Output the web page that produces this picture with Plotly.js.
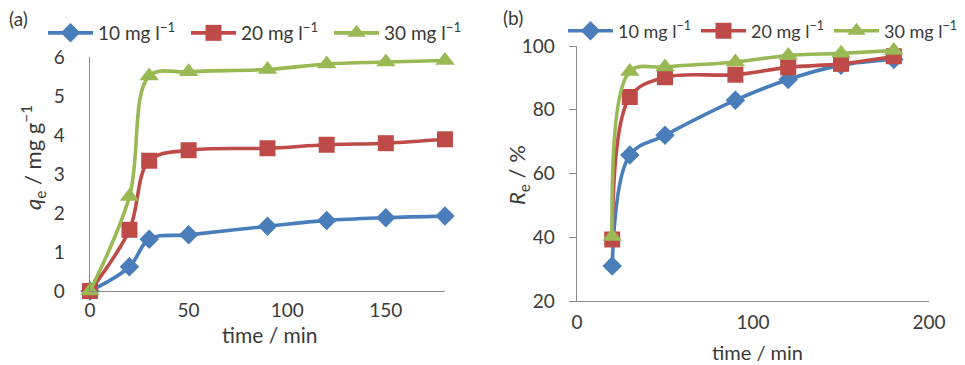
<!DOCTYPE html>
<html><head><meta charset="utf-8">
<script src="https://cdn.plot.ly/plotly-3.0.1.min.js"></script>
<style>html,body{margin:0;background:#fff;overflow:hidden}#c{width:965px;height:365px}</style>
</head><body><div id="c"></div><script>
const timeA=[0,20,30,50,90,120,150,180];
const qe10=[0,0.62,1.33,1.44,1.66,1.81,1.88,1.92];
const qe20=[0,1.57,3.34,3.61,3.66,3.75,3.79,3.89];
const qe30=[0,2.42,5.51,5.62,5.68,5.82,5.87,5.91];
const timeB=[20,30,50,90,120,150,180];
const re10=[31,65.8,72,83,89.5,94,95.8];
const re20=[39.3,84,90.2,91,93.3,94.4,96.8];
const re30=[40.2,92,93.4,95,97,97.7,98.6];
const names=['10 mg l<sup>−1</sup>','20 mg l<sup>−1</sup>','30 mg l<sup>−1</sup>'];
const colors=['#4A7EBB','#BE4B48','#98B954'];
const symbols=['diamond','square','triangle-up'];
const msize=[15,16,17];
const FONT='Lato, "Open Sans", sans-serif';
const TXT='#3a3a3a';
function tr(x,y,i,xa,ya,leg,show){
  return {x:x,y:y,type:'scatter',mode:'lines+markers',name:names[i],
    xaxis:xa,yaxis:ya,legend:leg,showlegend:show,cliponaxis:false,
    line:{color:colors[i],width:3.6,shape:'spline',smoothing:1},
    marker:{color:colors[i],symbol:symbols[i],size:msize[i]}};
}
const data=[
  tr(timeA,qe10,0,'x','y','legend',true),
  tr(timeA,qe20,1,'x','y','legend',true),
  tr(timeA,qe30,2,'x','y','legend',true),
  tr(timeB,re10,0,'x2','y2','legend2',true),
  tr(timeB,re20,1,'x2','y2','legend2',true),
  tr(timeB,re30,2,'x2','y2','legend2',true)
];
const axBase={showgrid:false,zeroline:false,showline:true,linecolor:'#8a8a8a',linewidth:1.3,
  tickfont:{family:FONT,size:19,color:TXT},ticks:'',fixedrange:true};
const layout={
  width:965,height:365,margin:{l:0,r:0,t:0,b:0},
  paper_bgcolor:'#fff',plot_bgcolor:'#fff',
  font:{family:FONT,color:TXT,size:19},
  xaxis:Object.assign({},axBase,{domain:[90/965,445/965],range:[0,180],tickvals:[0,50,100,150],anchor:'y',ticklabelstandoff:2}),
  yaxis:Object.assign({},axBase,{domain:[(365-291)/365,(365-57)/365],range:[0,6],dtick:1,anchor:'x',ticklabelstandoff:20}),
  xaxis2:Object.assign({},axBase,{domain:[577/965,929/965],range:[0,200],dtick:100,anchor:'y2',ticklabelstandoff:4}),
  yaxis2:Object.assign({},axBase,{domain:[(365-301)/365,(365-46)/365],range:[20,100],dtick:20,anchor:'x2',ticks:'outside',ticklen:7,tickcolor:'#8a8a8a',ticklabelstandoff:10}),
  legend:{orientation:'h',x:43/965,y:1-33/365,xanchor:'left',yanchor:'middle',itemwidth:45,entrywidth:83,
    font:{family:FONT,size:19,color:TXT},bgcolor:'rgba(0,0,0,0)'},
  legend2:{orientation:'h',x:563/965,y:1-31/365,xanchor:'left',yanchor:'middle',itemwidth:45,entrywidth:73,
    font:{family:FONT,size:18,color:TXT},bgcolor:'rgba(0,0,0,0)'},
  annotations:[
    {text:'(a)',xref:'paper',yref:'paper',x:7/965,y:1-18/365,xanchor:'left',yanchor:'middle',showarrow:false,font:{family:FONT,size:19,color:TXT}},
    {text:'(b)',xref:'paper',yref:'paper',x:501/965,y:1-17/365,xanchor:'left',yanchor:'middle',showarrow:false,font:{family:FONT,size:19,color:TXT}},
    {text:'time / min',xref:'paper',yref:'paper',x:270/965,y:1-334/365,xanchor:'center',yanchor:'middle',showarrow:false,font:{family:FONT,size:21,color:TXT}},
    {text:'time / min',xref:'paper',yref:'paper',x:757/965,y:1-352/365,xanchor:'center',yanchor:'middle',showarrow:false,font:{family:FONT,size:20,color:TXT}},
    {text:'<i>q</i><sub>e</sub> / mg g<sup>−1</sup>',textangle:-90,xref:'paper',yref:'paper',x:33/965,y:1-158/365,xanchor:'center',yanchor:'middle',showarrow:false,font:{family:FONT,size:22,color:TXT}},
    {text:'<i>R</i><sub>e</sub> / %',textangle:-90,xref:'paper',yref:'paper',x:518/965,y:1-175/365,xanchor:'center',yanchor:'middle',showarrow:false,font:{family:FONT,size:22,color:TXT}}
  ]
};
Plotly.newPlot('c',data,layout,{displayModeBar:false,staticPlot:true});
</script></body></html>
